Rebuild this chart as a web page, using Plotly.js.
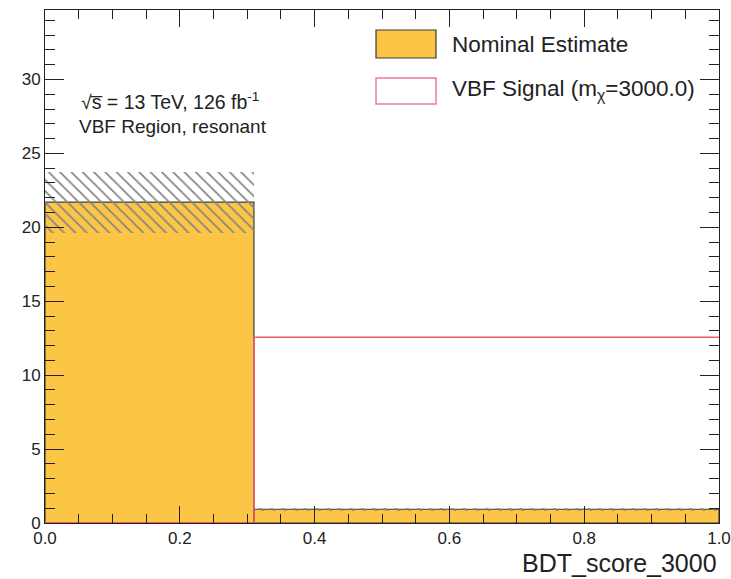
<!DOCTYPE html>
<html>
<head>
<meta charset="utf-8">
<script src="https://cdn.plot.ly/plotly-3.0.1.min.js"></script>
<style>html,body{margin:0;padding:0;background:#fff;}#chart{width:731px;height:579px;}</style>
</head>
<body>
<div id="chart"></div>
<script>
// ---- data ----
const binEdges = [0.0, 0.31, 1.0];
const nominal = [21.7, 0.93];
const nominalErr = [2.05, 0.10];
const signal = [0.0, 12.57];
const xTickLabels = ['0.0', '0.2', '0.4', '0.6', '0.8', '1.0'];
const xTickVals = [0, 0.2, 0.4, 0.6, 0.8, 1.0];
const yTickVals = [0, 5, 10, 15, 20, 25, 30];

const binLow = binEdges.slice(0, -1);
const binWidth = binLow.map((lo, i) => binEdges[i + 1] - lo);

const FONT = 'Liberation Sans, Arial, Helvetica, sans-serif';
const ORANGE = '#fcc545';
const RED = '#f4566f';

const traces = [
  {
    type: 'bar', x: binLow, y: nominal, width: binWidth, offset: 0,
    marker: { color: ORANGE, line: { color: '#3a3a3a', width: 1.2 } },
    hoverinfo: 'skip', showlegend: false
  },
  {
    type: 'bar', x: binLow,
    y: nominalErr.map(e => 2 * e),
    base: nominal.map((v, i) => v - nominalErr[i]),
    width: binWidth, offset: 0,
    marker: {
      color: 'rgba(0,0,0,0)', line: { width: 0 },
      pattern: { shape: '\\', fgcolor: '#858585', bgcolor: 'rgba(0,0,0,0)', size: 8, solidity: 0.22 }
    },
    hoverinfo: 'skip', showlegend: false
  },
  {
    type: 'scatter', mode: 'lines',
    x: binEdges, y: signal.concat([signal[signal.length - 1]]),
    line: { shape: 'hv', color: RED, width: 1.5 },
    hoverinfo: 'skip', showlegend: false
  }
];

const layout = {
  width: 731, height: 579,
  margin: { l: 45, r: 12, t: 10, b: 56 },
  paper_bgcolor: '#ffffff', plot_bgcolor: '#ffffff',
  font: { family: FONT, color: '#222', size: 17 },
  barmode: 'overlay', bargap: 0,
  showlegend: false,
  xaxis: {
    range: [0, 1], tickvals: xTickVals, ticktext: xTickLabels,
    ticks: 'inside', ticklen: 17, tickwidth: 1, tickcolor: '#222',
    minor: { dtick: 0.05, ticks: 'inside', ticklen: 9, tickcolor: '#222', tickwidth: 1 },
    showline: true, linecolor: '#222', linewidth: 1, mirror: 'allticks',
    showgrid: false, zeroline: false,
    tickfont: { family: FONT, size: 17, color: '#222' }
  },
  yaxis: {
    range: [0, 34.7], tickvals: yTickVals,
    ticks: 'inside', ticklen: 19, tickwidth: 1, tickcolor: '#222',
    minor: { dtick: 1, ticks: 'inside', ticklen: 10, tickcolor: '#222', tickwidth: 1 },
    showline: true, linecolor: '#222', linewidth: 1, mirror: 'allticks',
    showgrid: false, zeroline: false,
    tickfont: { family: FONT, size: 17, color: '#222' }
  },
  shapes: [
    { type: 'rect', xref: 'paper', yref: 'paper',
      x0: (376 - 45) / 674, x1: (436 - 45) / 674, y0: (523 - 58) / 513, y1: (523 - 30) / 513,
      fillcolor: ORANGE, line: { color: '#3a3a3a', width: 1.2 } },
    { type: 'rect', xref: 'paper', yref: 'paper',
      x0: (376 - 45) / 674, x1: (436 - 45) / 674, y0: (523 - 104) / 513, y1: (523 - 78) / 513,
      fillcolor: 'rgba(0,0,0,0)', line: { color: '#f27a92', width: 1.5 } }
  ],
  annotations: [
    { xref: 'paper', yref: 'paper', x: (450 - 45) / 674, y: (523 - 44) / 513,
      xanchor: 'left', yanchor: 'middle', showarrow: false,
      text: 'Nominal Estimate', font: { family: FONT, size: 22.5, color: '#222' } },
    { xref: 'paper', yref: 'paper', x: (450 - 45) / 674, y: (523 - 90) / 513,
      xanchor: 'left', yanchor: 'middle', showarrow: false,
      text: 'VBF Signal (m<sub>χ</sub>=3000.0)', font: { family: FONT, size: 22.5, color: '#222' } },
    { xref: 'paper', yref: 'paper', x: (79 - 45) / 674, y: (523 - 101) / 513,
      xanchor: 'left', yanchor: 'middle', showarrow: false,
      text: '√s\u0305 = 13 TeV, 126 fb<sup>-1</sup>',
      font: { family: FONT, size: 19.5, color: '#222' } },
    { xref: 'paper', yref: 'paper', x: (77 - 45) / 674, y: (523 - 126) / 513,
      xanchor: 'left', yanchor: 'middle', showarrow: false,
      text: 'VBF Region, resonant', font: { family: FONT, size: 19, color: '#222' } },
    { xref: 'paper', yref: 'paper', x: 1, y: (523 - 563) / 513,
      xanchor: 'right', yanchor: 'middle', showarrow: false,
      text: 'BDT_score_3000', font: { family: FONT, size: 25, color: '#222' } }
  ]
};

Plotly.newPlot('chart', traces, layout, { displayModeBar: false, staticPlot: true });
</script>
</body>
</html>
